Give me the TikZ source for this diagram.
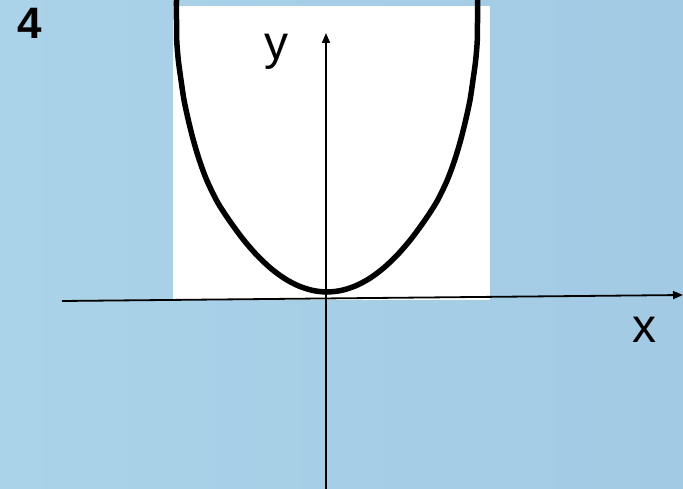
\documentclass[tikz,border=0pt]{standalone}
\usepackage{fontspec}
\setmainfont{Liberation Sans}
\usepackage{tikz}
\usetikzlibrary{arrows.meta, positioning}
\definecolor{cSkyLeft}{RGB}{170,210,232}
\definecolor{cSkyRight}{RGB}{162,202,228}
\tikzset{
    axisline/.style={-{Triangle[length=10pt, width=8pt]}, line width=1.8pt, black},
    curveline/.style={line width=5.5pt, black},
    axislabel/.style={font=\fontsize{48}{48}\selectfont, inner sep=0pt, anchor=base},
    tasknum/.style={font=\fontsize{44}{44}\selectfont\bfseries, inner sep=0pt, anchor=base},
}

\begin{document}
\begin{tikzpicture}[x=1pt, y=-1pt]
        % background and frame
        \useasboundingbox (0,0) rectangle (683,489);
        \shade[left color=cSkyLeft, right color=cSkyRight] (0,0) rectangle (683,489);
        \fill[white] (173,6) rectangle (490,300);
        % graph
        \draw[curveline] plot[smooth] coordinates {(176.5,0) (176.5,20) (176.7,40) (178.3,60) (181,80) (184,100) (188.3,120) (193.3,140) (199.3,160) (206.7,180) (217,201.3) (229,220) (243,239.1) (257,255.3) (271,268.5) (285,278.8) (299,286.1) (313,290.5) (327,292)
            (341,290.5) (355,286.1) (369,278.8) (383,268.5) (397,255.3) (411,239.1) (425,220) (437,201.3) (447.3,180) (454.7,160) (460.7,140) (465.7,120) (470,100) (473,80) (475.7,60) (477.3,40) (477.5,20) (477.5,0)};
        % axes
        \coordinate (xstart) at (62,301);
        \coordinate (xend) at (683,295);
        \coordinate (ystart) at (326,489);
        \coordinate (yend) at (326,33);
        \draw[axisline] (xstart) -- (xend);
        \draw[axisline] (ystart) -- (yend);
        \node[axislabel] (xlabel) at (644,342) {x};
        \node[axislabel] (ylabel) at (276,60) {y};
        \node[tasknum] (num) at (29.5,39) {4};
    \end{tikzpicture}
\end{document}
